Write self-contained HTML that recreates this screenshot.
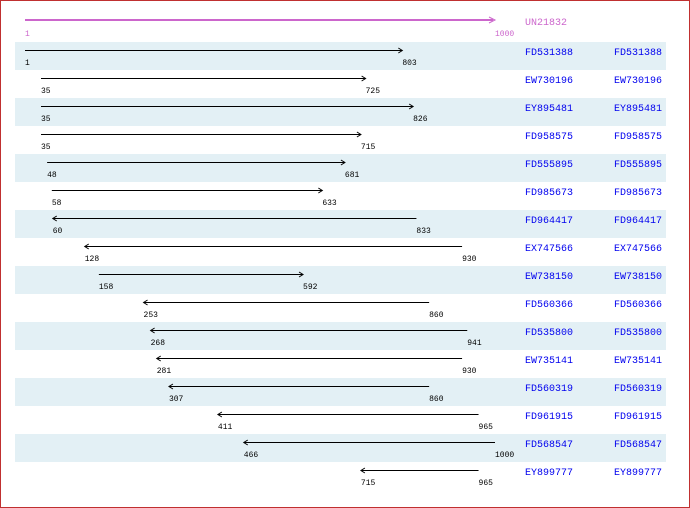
<!DOCTYPE html>
<html><head><meta charset="utf-8"><style>
html,body{margin:0;padding:0;background:#fff;}
svg{display:block;}
.n{font-family:"Liberation Mono",monospace;font-size:8px;fill:#000;}
.id{font-family:"Liberation Mono",monospace;font-size:10px;fill:#0000ee;}
</style></head><body>
<svg width="690" height="508" xmlns="http://www.w3.org/2000/svg">
<rect x="0.5" y="0.5" width="689" height="507" fill="#fff" stroke="#c03030" stroke-width="1"/>
<line x1="25" y1="20" x2="493" y2="20" stroke="#cc66cc" stroke-width="2"/>
<path d="M489 17 L495 20 L489 23" fill="none" stroke="#cc66cc" stroke-width="1"/>
<text x="25" y="36" class="n" style="fill:#cc66cc">1</text>
<text x="495" y="36" class="n" style="fill:#cc66cc">1000</text>
<text x="525" y="25" class="id" style="fill:#cc66cc">UN21832</text>
<g id="rows"></g>
</svg>
<script>
var rows=[
["FD531388",1,803,1],["EW730196",35,725,1],["EY895481",35,826,1],["FD958575",35,715,1],
["FD555895",48,681,1],["FD985673",58,633,1],["FD964417",60,833,0],["EX747566",128,930,0],
["EW738150",158,592,1],["FD560366",253,860,0],["FD535800",268,941,0],["EW735141",281,930,0],
["FD560319",307,860,0],["FD961915",411,965,0],["FD568547",466,1000,0],["EY899777",715,965,0]];
var s="";
function X(p){return 25+(p-1)*470/999;}
rows.forEach(function(r,i){
 var t=42+28*i, y=t+8.5, a=X(r[1]), b=X(r[2]);
 if(i%2==0) s+='<rect x="15" y="'+t+'" width="651" height="28" fill="#e3f0f5"/>';
 s+='<line x1="'+a+'" y1="'+y+'" x2="'+b+'" y2="'+y+'" stroke="#000" stroke-width="1"/>';
 if(r[3]) s+='<path d="M'+(b-4)+' '+(y-2.5)+' L'+b+' '+y+' L'+(b-4)+' '+(y+2.5)+'" fill="none" stroke="#000"/>';
 else s+='<path d="M'+(a+4)+' '+(y-2.5)+' L'+a+' '+y+' L'+(a+4)+' '+(y+2.5)+'" fill="none" stroke="#000"/>';
 s+='<text class="n" x="'+a+'" y="'+(t+23)+'">'+r[1]+'</text>';
 s+='<text class="n" x="'+b+'" y="'+(t+23)+'">'+r[2]+'</text>';
 s+='<text class="id" x="525" y="'+(t+13)+'">'+r[0]+'</text>';
 s+='<text class="id" x="614" y="'+(t+13)+'">'+r[0]+'</text>';
});
document.getElementById("rows").innerHTML=s;
</script>
</body></html>
